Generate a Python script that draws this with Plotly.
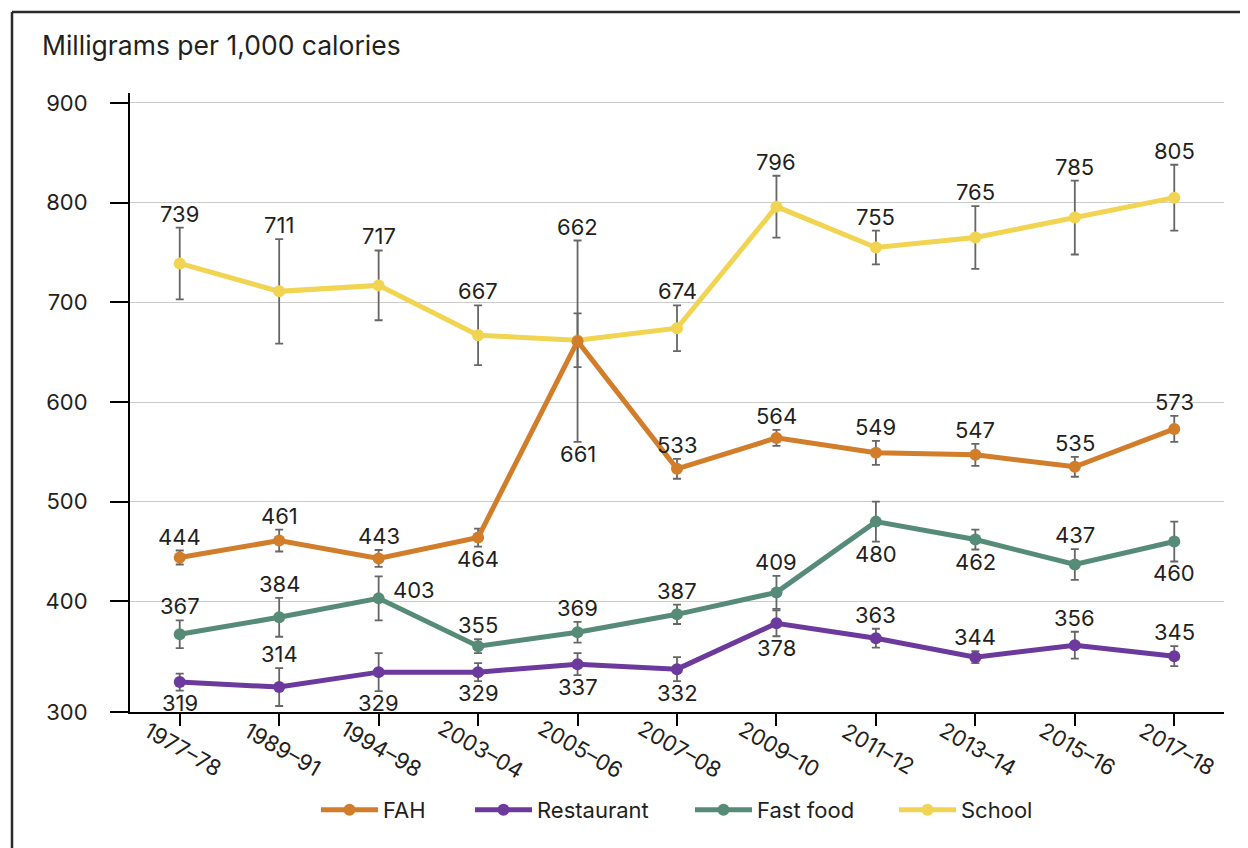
import plotly.graph_objects as go

# ---------------- data ----------------
categories = ["1977–78", "1989–91", "1994–98", "2003–04", "2005–06", "2007–08",
              "2009–10", "2011–12", "2013–14", "2015–16", "2017–18"]

fah = [444, 461, 443, 464, 661, 533, 564, 549, 547, 535, 573]
fah_err = [7, 11, 8.5, 9, 101, 10, 8, 12, 11, 10, 13]
fah_pos = ["above", "above", "above", "below", "below", "above", "above",
           "above", "above", "above", "above"]

restaurant = [319, 314, 329, 329, 337, 332, 378, 363, 344, 356, 345]
restaurant_err = [8.5, 19, 19, 9, 11, 12, 13, 9.5, 6, 13.5, 10]
restaurant_pos = ["below", "above", "below", "below", "below", "below", "below",
                  "above", "above", "above", "above"]

fast_food = [367, 384, 403, 355, 369, 387, 409, 480, 462, 437, 460]
fast_food_err = [14, 19.5, 22, 7, 10.5, 9.7, 16.5, 20, 10, 15.5, 20]
fast_food_pos = ["above", "above", "right", "above", "above", "above", "above",
                 "below", "below", "above", "below"]

school = [739, 711, 717, 667, 662, 674, 796, 755, 765, 785, 805]
school_err = [36, 52.5, 35, 30, 27, 23, 31, 17, 31.5, 37, 33]
school_pos = ["above"] * 11

y_tick_values = [400, 500, 600, 700, 800, 900]
y_tick_labels = ["300", "400", "500", "600", "700", "800", "900"]

# ---------------- style ----------------
FONT = "Inter, Roboto, sans-serif"
TXT = "#231f20"
Y_MIN, Y_MAX = 289, 910
OFF = 8                      # page body margin
W, H = 1240, 840
ML, MR, MT, MB = 122, 24, 85, 136
PW, PH = W - ML - MR, H - MT - MB


def px_x(p):                 # page pixel -> paper x
    return (p - OFF - ML) / PW


def px_y(p):                 # page pixel -> paper y
    return (H - MB - (p - OFF)) / PH


series = [
    # name, values, errors, positions, color, legend id, legend left px
    ("School", school, school_err, school_pos, "#F0D452", "legend4", 898),
    ("Fast food", fast_food, fast_food_err, fast_food_pos, "#568B78", "legend3", 694),
    ("Restaurant", restaurant, restaurant_err, restaurant_pos, "#6C3A9C", "legend2", 474),
    ("FAH", fah, fah_err, fah_pos, "#D17D2A", "legend", 320),
]

fig = go.Figure()
annotations = []
LABEL_FONT = dict(family=FONT, size=22, color=TXT)
legends = {}
for name, vals, errs, poss, color, leg, leg_x in series:
    fig.add_trace(go.Scatter(
        x=categories, y=vals, name=name, mode="lines+markers",
        line=dict(color=color, width=5),
        marker=dict(color=color, size=12),
        error_y=dict(type="data", array=errs, visible=True,
                     color="#666666", thickness=1.8, width=4),
        legend=leg,
    ))
    legends[leg] = dict(orientation="h", x=px_x(leg_x - 4), xanchor="left",
                        y=px_y(810), yanchor="middle", itemwidth=57,
                        bgcolor="rgba(0,0,0,0)",
                        font=dict(family=FONT, size=22, color=TXT))

for name, vals, errs, poss, color, leg, leg_x in series:
    for i, (c, v, e, p) in enumerate(zip(categories, vals, errs, poss)):
        # overlapping points share the widest error bar extent
        ext_hi = max(s[1][i] + s[2][i] for s in series if abs(s[1][i] - v) <= 5)
        ext_lo = min(s[1][i] - s[2][i] for s in series if abs(s[1][i] - v) <= 5)
        if p == "above":
            annotations.append(dict(x=c, y=ext_hi, xref="x", yref="y", text=str(v),
                                    showarrow=False, xanchor="center", yanchor="middle",
                                    yshift=14, font=LABEL_FONT))
        elif p == "below":
            annotations.append(dict(x=c, y=ext_lo, xref="x", yref="y", text=str(v),
                                    showarrow=False, xanchor="center", yanchor="middle",
                                    yshift=-12, font=LABEL_FONT))
        else:
            annotations.append(dict(x=c, y=v, xref="x", yref="y", text=str(v),
                                    showarrow=False, xanchor="left", yanchor="middle",
                                    xshift=12, yshift=8, font=LABEL_FONT))

# rotated category labels
for c in categories:
    annotations.append(dict(x=c, y=0, xref="x", yref="paper", text=c, showarrow=False,
                            textangle=30, xanchor="center", yanchor="middle", yshift=-37,
                            xshift=3, font=dict(family=FONT, size=22, color=TXT)))

# chart title
annotations.append(dict(x=px_x(40), y=px_y(45), xref="paper", yref="paper",
                        text="Milligrams per 1,000 calories", showarrow=False,
                        xanchor="left", yanchor="middle",
                        font=dict(family=FONT, size=26.5, color=TXT)))

shapes = [
    dict(type="line", xref="paper", yref="paper", x0=px_x(12), x1=px_x(1300),
         y0=px_y(12), y1=px_y(12), line=dict(color="#2a2a2a", width=2.5)),
    dict(type="line", xref="paper", yref="paper", x0=px_x(12), x1=px_x(12),
         y0=px_y(12), y1=px_y(900), line=dict(color="#2a2a2a", width=2.5)),
]

fig.update_layout(
    width=W, height=H,
    margin=dict(l=ML, r=MR, t=MT, b=MB, autoexpand=False),
    paper_bgcolor="white", plot_bgcolor="white",
    font=dict(family=FONT, size=22, color=TXT),
    showlegend=True,
    annotations=annotations,
    shapes=shapes,
    xaxis=dict(type="category", showline=True, linecolor="black", linewidth=2,
               ticks="outside", ticklen=12, tickwidth=2, tickcolor="black",
               showticklabels=False, showgrid=False, zeroline=False,
               range=[-0.5, len(categories) - 0.5], fixedrange=True),
    yaxis=dict(range=[Y_MIN, Y_MAX], showline=True, linecolor="black", linewidth=2,
               ticks="outside", ticklen=18, tickwidth=2, tickcolor="black",
               tickvals=[Y_MIN] + y_tick_values, ticktext=y_tick_labels,
               showgrid=True, gridcolor="#cccccc", gridwidth=1.2, zeroline=False,
               tickfont=dict(family=FONT, size=22, color=TXT),
               ticklabelstandoff=18, fixedrange=True),
    **legends,
)

fig.write_html("out.html")
